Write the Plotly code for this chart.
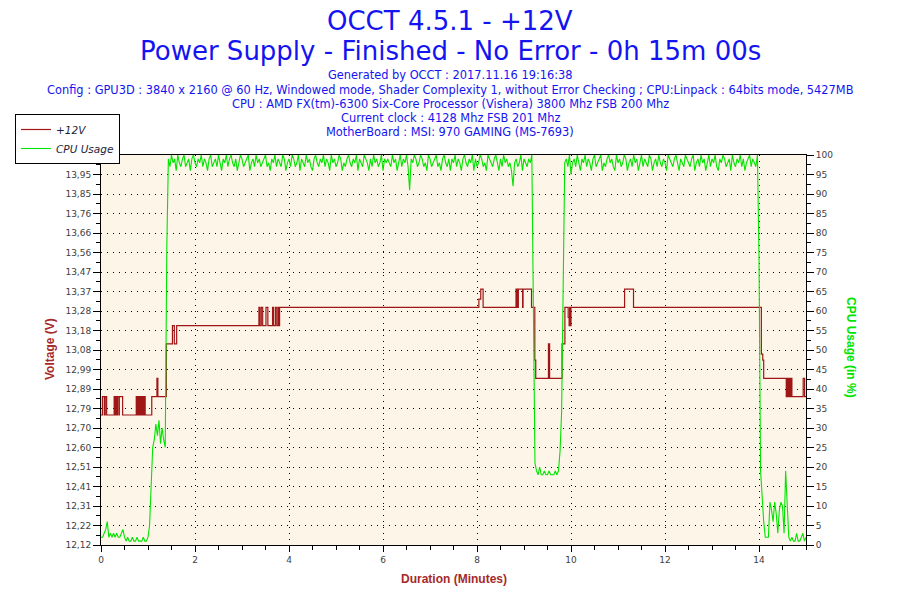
import plotly.graph_objects as go

# ---------------- data ----------------
# +12V voltage readings (step changes), minutes -> volts
volt_minutes = [0.00, 0.03, 0.07, 0.09, 0.12, 0.28, 0.30, 0.31, 0.33, 0.35,
                0.38, 0.39, 0.46, 0.75, 0.76, 0.77, 0.79, 0.80, 0.82, 0.83,
                0.85, 0.86, 0.88, 0.89, 0.91, 0.92, 0.94, 1.08, 1.19, 1.21,
                1.39, 1.52, 1.56, 1.61, 3.36, 3.38, 3.41, 3.44, 3.51, 3.55,
                3.65, 3.67, 3.71, 3.74, 3.77, 3.78, 3.80, 8.04, 8.08, 8.13,
                8.83, 8.85, 8.86, 8.87, 8.88, 8.97, 8.98, 9.16, 9.23, 9.25,
                9.52, 9.545, 9.81, 9.87, 9.94, 9.96, 9.97, 9.98, 10.00, 11.14,
                11.33, 14.05, 14.08, 14.10, 14.58, 14.60, 14.61, 14.63, 14.64, 14.66,
                14.67, 14.69, 14.70, 14.94, 14.97, 15.00]
volt_values = [12.76, 12.85, 12.76, 12.85, 12.76, 12.85, 12.76, 12.85, 12.76, 12.85,
               12.76, 12.85, 12.76, 12.85, 12.76, 12.85, 12.76, 12.85, 12.76, 12.85,
               12.76, 12.85, 12.76, 12.85, 12.76, 12.85, 12.76, 12.85, 12.94, 12.85,
               13.11, 13.20, 13.11, 13.20, 13.29, 13.20, 13.29, 13.20, 13.29, 13.20,
               13.29, 13.20, 13.29, 13.20, 13.29, 13.20, 13.29, 13.33, 13.38, 13.29,
               13.38, 13.29, 13.38, 13.29, 13.38, 13.29, 13.38, 13.29, 13.03, 12.94,
               13.11, 12.94, 13.11, 13.29, 13.24, 13.20, 13.29, 13.20, 13.29, 13.38,
               13.29, 13.06, 13.03, 12.94, 12.85, 12.94, 12.85, 12.94, 12.85, 12.94,
               12.85, 12.94, 12.85, 12.94, 12.85, 12.85]

# CPU usage (%), one reading every 2 seconds (0 .. 15 min)
SAMPLE_SECONDS = 2
cpu_idle = [2, 2, 3, 4, 6, 2, 3, 2, 3, 2, 3, 2, 2, 3, 4, 2, 1, 2, 1, 1,
            2, 1, 1, 2, 1, 1, 1, 2, 1, 1]
cpu_ramp = [2, 5, 14, 25, 27, 31, 28, 32, 26, 30, 27, 25, 76]
cpu_load1 = [99, 97, 100, 98, 99, 96, 100, 98, 97, 99, 100, 97, 98, 99, 96, 99, 100, 98, 97, 99,
             98, 100, 97, 99, 98, 96, 99, 100, 97, 98, 99, 97, 100, 98, 96, 99, 98, 100, 97, 99,
             100, 98, 97, 99, 96, 98, 100, 99, 97, 98, 99, 100, 96, 98, 99, 97, 100, 98, 99, 97,
             98, 99, 100, 97, 98, 96, 99, 98, 100, 97, 99, 98, 97, 100, 99, 96, 98, 99, 97, 100,
             99, 97, 98, 100, 96, 99, 98, 97, 100, 98, 99, 97, 96, 99, 100, 98, 97, 99, 98, 100,
             97, 99, 98, 96, 100, 98, 99, 97, 98, 100, 99, 96, 98, 97, 99, 100, 98, 97, 99, 98,
             100, 96, 99, 98, 97, 100, 99, 98, 96, 99, 97, 100, 98, 99, 97, 98, 100, 96, 99, 98,
             99, 98, 97, 100, 98, 99, 96, 98, 100, 97, 99, 98, 100, 97, 91, 99, 98, 100, 99, 97,
             98, 100, 99, 97, 98, 96, 100, 99, 97, 98, 99, 100, 97, 98, 96, 99, 100, 98, 97, 99,
             96, 99, 98, 100, 97, 99, 98, 96, 99, 100, 98, 97, 99, 98, 100, 96, 99, 97, 98, 100,
             99, 97, 98, 96, 100, 99, 98, 97, 99, 100, 98, 96, 99, 97, 100, 98, 99, 97, 98, 96,
             92, 98, 99, 97, 98, 100, 96, 99, 98, 97, 99, 98, 100]
cpu_pause = [67, 21, 19, 18, 20, 18, 18, 19, 18, 18, 19, 18, 18, 18, 19, 18, 19, 24, 34, 72]
cpu_load2 = [98, 99, 97, 100, 95, 98, 99, 97, 100, 98, 96, 99, 98, 100, 97, 99, 98, 96, 99, 100,
             97, 98, 99, 100, 96, 98, 97, 99, 100, 98, 99, 97, 96, 100, 98, 99, 97, 98, 100, 99,
             96, 98, 99, 97, 100, 98, 99, 96, 98, 100, 97, 99, 98, 97, 100, 99, 96, 98, 99, 97,
             100, 98, 97, 99, 98, 96, 100, 99, 98, 97, 99, 100, 98, 96, 99, 98, 97, 100, 99, 98,
             97, 99, 100, 96, 98, 99, 97, 100, 98, 99, 96, 98, 100, 97, 99, 98, 100, 97, 96, 99,
             98, 100, 99, 97, 98, 99, 96, 100, 98, 97, 99, 98, 100, 97, 99, 96, 98, 99, 100, 97,
             99, 98, 97, 100]
cpu_end = [74, 19, 12, 6, 2, 2, 2, 11, 9, 6, 11, 8, 3, 9, 11, 10, 3, 19, 11, 2,
           1, 2, 1, 1, 3, 1, 1, 2, 3, 1, 2]
cpu_usage = cpu_idle + cpu_ramp + cpu_load1 + cpu_pause + cpu_load2 + cpu_end
cpu_minutes = [i * SAMPLE_SECONDS / 60 for i in range(len(cpu_usage))]

# axes
x_tick_values = [0, 2, 4, 6, 8, 10, 12, 14]
volt_tick_labels = ["12,12", "12,22", "12,31", "12,41", "12,51", "12,60", "12,70",
                    "12,79", "12,89", "12,99", "13,08", "13,18", "13,28", "13,37",
                    "13,47", "13,56", "13,66", "13,76", "13,85", "13,95", "14,04"]
VOLT_MIN, VOLT_MAX = 12.12, 14.04
volt_tick_values = [VOLT_MIN + k * (VOLT_MAX - VOLT_MIN) / (len(volt_tick_labels) - 1)
                    for k in range(len(volt_tick_labels))]

title_lines = ["OCCT 4.5.1 - +12V",
               "Power Supply - Finished - No Error - 0h 15m 00s"]
info_lines = ["Generated by OCCT : 2017.11.16 19:16:38",
              "Config : GPU3D : 3840 x 2160 @ 60 Hz, Windowed mode, Shader Complexity 1, without Error Checking ; CPU:Linpack : 64bits mode, 5427MB",
              "CPU : AMD FX(tm)-6300 Six-Core Processor (Vishera) 3800 Mhz FSB 200 Mhz",
              "Current clock : 4128 Mhz FSB 201 Mhz",
              "MotherBoard : MSI: 970 GAMING (MS-7693)"]

# ---------------- figure ----------------
L, R, T, B = 101, 94, 155, 55
W, H = 900, 600
PW, PH = W - L - R, H - T - B


def px_x(px):
    return (px - L) / PW


def px_y(py):
    return (H - B - py) / PH


BLUE = "#1414F0"
RED = "#9E1616"
GREEN = "#00E400"
TICKFONT = dict(family="DejaVu Sans", size=9, color="#404040")
GRID = dict(showgrid=True, gridcolor="#000000", gridwidth=1, griddash="1px,5px")

fig = go.Figure()
fig.add_trace(go.Scatter(x=volt_minutes, y=volt_values, name="<i>+12V</i>", mode="lines",
                         line=dict(color=RED, width=1.2, shape="hv"), yaxis="y"))
fig.add_trace(go.Scatter(x=cpu_minutes, y=cpu_usage, name="<i>CPU Usage</i>", mode="lines",
                         line=dict(color=GREEN, width=1.1), yaxis="y2"))

annotations = []
for text, py in zip(title_lines, [21, 51]):
    annotations.append(dict(text=text, x=px_x(450), y=px_y(py), xref="paper", yref="paper",
                            xanchor="center", yanchor="middle", showarrow=False,
                            font=dict(family="DejaVu Sans", size=26, color=BLUE)))
for text, py in zip(info_lines, [75, 90, 104, 118, 132]):
    annotations.append(dict(text=text, x=px_x(450), y=px_y(py), xref="paper", yref="paper",
                            xanchor="center", yanchor="middle", showarrow=False,
                            font=dict(family="DejaVu Sans", size=11.4, color=BLUE)))
annotations.append(dict(text="<b>Voltage (V)</b>", x=px_x(50), y=px_y(349), xref="paper", yref="paper",
                        textangle=-90, showarrow=False, xanchor="center", yanchor="middle",
                        font=dict(family="Liberation Sans", size=12, color="#A52A2A")))
annotations.append(dict(text="<b>CPU Usage (in %)</b>", x=px_x(851), y=px_y(347), xref="paper", yref="paper",
                        textangle=90, showarrow=False, xanchor="center", yanchor="middle",
                        font=dict(family="Liberation Sans", size=12, color=GREEN)))
annotations.append(dict(text="<b>Duration (Minutes)</b>", x=px_x(454), y=px_y(579), xref="paper", yref="paper",
                        showarrow=False, xanchor="center", yanchor="middle",
                        font=dict(family="Liberation Sans", size=12, color="#A52A2A")))

fig.update_layout(
    width=W, height=H, autosize=False,
    margin=dict(l=L, r=R, t=T, b=B, pad=0),
    paper_bgcolor="white", plot_bgcolor="#FDF6E8",
    showlegend=True,
    legend=dict(x=px_x(15), y=px_y(114), xanchor="left", yanchor="top",
                bgcolor="white", bordercolor="black", borderwidth=1,
                font=dict(family="DejaVu Sans", size=10.5, color="#1c1c3c"),
                itemwidth=30, tracegroupgap=0),
    xaxis=dict(range=[0, 15], tickmode="array", tickvals=x_tick_values,
               ticks="outside", ticklen=6, tickcolor="black", tickwidth=1,
               showline=True, linecolor="black", linewidth=1, mirror=True,
               zeroline=False, tickfont=TICKFONT,
               minor=dict(dtick=0.5, tick0=0, ticks="outside", ticklen=4, tickcolor="black", showgrid=False),
               **GRID),
    yaxis=dict(range=[VOLT_MIN, VOLT_MAX], tickmode="array", tickvals=volt_tick_values,
               ticktext=volt_tick_labels, ticks="outside", ticklen=7, tickcolor="black",
               showline=True, linecolor="black", linewidth=1, zeroline=False, tickfont=TICKFONT,
               minor=dict(dtick=(VOLT_MAX - VOLT_MIN) / 40, tick0=VOLT_MIN, ticks="outside",
                          ticklen=4, tickcolor="black", showgrid=False),
               **GRID),
    yaxis2=dict(range=[0, 100], overlaying="y", side="right", tickmode="linear", tick0=0, dtick=5,
                ticks="outside", ticklen=7, tickcolor="black", showline=True, linecolor="black",
                linewidth=1, zeroline=False, showgrid=False, tickfont=TICKFONT,
                minor=dict(dtick=2.5, tick0=0, ticks="outside", ticklen=4, tickcolor="black", showgrid=False)),
    annotations=annotations,
)

fig.write_html("out.html", config={"displayModeBar": False},
               post_script="document.body.style.margin='0';")
